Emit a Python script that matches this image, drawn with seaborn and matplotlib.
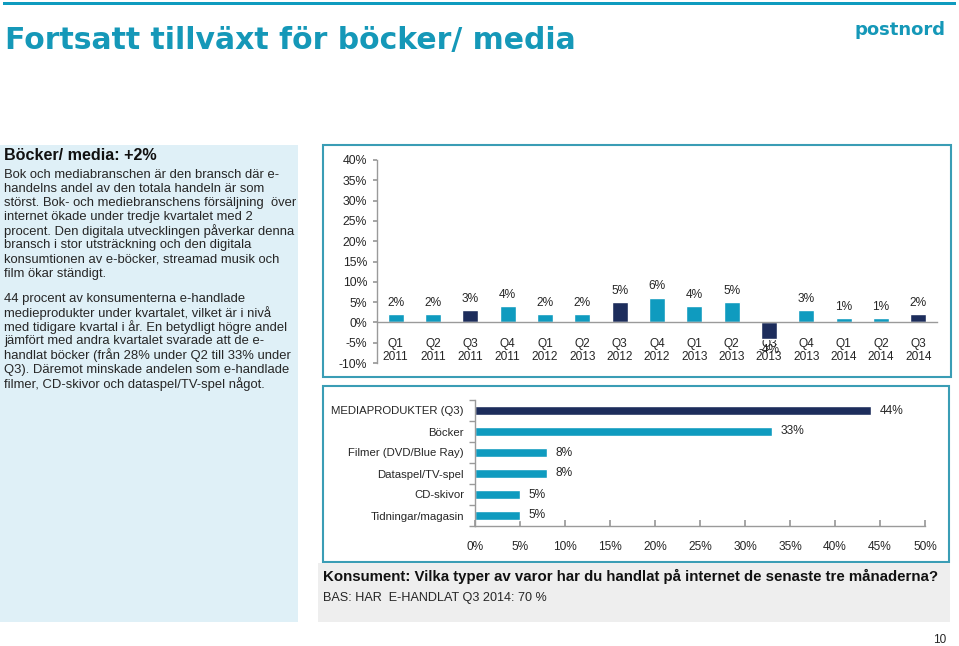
import numpy as np
import pandas as pd
import matplotlib
matplotlib.use("Agg")
import matplotlib.pyplot as plt
from matplotlib.patches import Rectangle
from matplotlib.ticker import FixedLocator, FuncFormatter
import seaborn as sns

# --- data -------------------------------------------------------------
quarters = ["Q1\n2011", "Q2\n2011", "Q3\n2011", "Q4\n2011", "Q1\n2012", "Q2\n2013",
            "Q3\n2012", "Q4\n2012", "Q1\n2013", "Q2\n2013", "Q3\n2013", "Q4\n2013",
            "Q1\n2014", "Q2\n2014", "Q3\n2014"]
growth = [2, 2, 3, 4, 2, 2, 5, 6, 4, 5, -4, 3, 1, 1, 2]

products = ["MEDIAPRODUKTER (Q3)", "Böcker", "Filmer (DVD/Blue Ray)",
            "Dataspel/TV-spel", "CD-skivor", "Tidningar/magasin"]
shares = [44, 33, 8, 8, 5, 5]

left_heading = "Böcker/ media: +2%"
left_par1 = ["Bok och mediabranschen är den bransch där e-",
             "handelns andel av den totala handeln är som",
             "störst. Bok- och mediebranschens försäljning  över",
             "internet ökade under tredje kvartalet med 2",
             "procent. Den digitala utvecklingen påverkar denna",
             "bransch i stor utsträckning och den digitala",
             "konsumtionen av e-böcker, streamad musik och",
             "film ökar ständigt."]
left_par2 = ["44 procent av konsumenterna e-handlade",
             "medieprodukter under kvartalet, vilket är i nivå",
             "med tidigare kvartal i år. En betydligt högre andel",
             "jämfört med andra kvartalet svarade att de e-",
             "handlat böcker (från 28% under Q2 till 33% under",
             "Q3). Däremot minskade andelen som e-handlade",
             "filmer, CD-skivor och dataspel/TV-spel något."]

TEAL = "#0f9bbf"
NAVY = "#1d2d5c"
TITLE_TEAL = "#1598b8"
BORDER = "#3a9db5"
AXIS_GRAY = "#9a9a9a"
TXT = "#262626"

W, H = 959, 646


def fx(x):
    return x / W


def fy(y):
    return 1 - y / H


def box(fig, x0, y0, x1, y1, **kw):
    fig.add_artist(Rectangle((fx(x0), fy(y1)), fx(x1) - fx(x0), fy(y0) - fy(y1),
                             transform=fig.transFigure, **kw))


sns.set_theme(style="white")
plt.rcParams['font.family'] = ['Liberation Sans', 'DejaVu Sans']

fig = plt.figure(figsize=(W / 100, H / 100), dpi=100)
fig.patch.set_facecolor("white")

# page decorations
box(fig, 3, 1.5, 956, 5, facecolor=TEAL, edgecolor="none")
fig.text(fx(5), fy(40), "Fortsatt tillväxt för böcker/ media", color=TITLE_TEAL,
         fontsize=21.5, fontweight="bold", va="center", ha="left",
         family=["DejaVu Sans"])
fig.text(fx(945), fy(30), "postnord", color=TITLE_TEAL, fontsize=13,
         fontweight="heavy", va="center", ha="right", family=["DejaVu Sans"])

# left text panel
box(fig, 0, 145, 298, 622, facecolor="#dff0f7", edgecolor="none")
fig.text(fx(4), fy(156), left_heading, fontsize=11.6, fontweight="bold",
         color="#111111", va="center")
for i, line in enumerate(left_par1):
    fig.text(fx(4), fy(175 + 14.1 * i), line, fontsize=9.4, color=TXT, va="center")
for i, line in enumerate(left_par2):
    fig.text(fx(4), fy(299 + 14.1 * i), line, fontsize=9.4, color=TXT, va="center")

# chart frames and footer
box(fig, 323, 145, 951, 377, facecolor="none", edgecolor=BORDER, lw=1.5)
box(fig, 323, 386, 949, 562, facecolor="none", edgecolor=BORDER, lw=1.5)
box(fig, 318, 563, 950, 622, facecolor="#eeeeee", edgecolor="none")
fig.text(fx(323), fy(576), "Konsument: Vilka typer av varor har du handlat på internet de senaste tre månaderna?",
         fontsize=10.8, fontweight="bold", color="#111111", va="center")
fig.text(fx(323), fy(598), "BAS: HAR  E-HANDLAT Q3 2014: 70 %", fontsize=9.1,
         color=TXT, va="center")
fig.text(fx(946), fy(640), "10", fontsize=8.5, color=TXT, va="center", ha="right")

# --- top chart: quarterly growth -------------------------------------
df_q = pd.DataFrame({"pos": [str(i) for i in range(len(quarters))],
                     "label": quarters, "growth": growth})
q_colors = {p: (NAVY if lab.startswith("Q3") else TEAL)
            for p, lab in zip(df_q["pos"], df_q["label"])}

ax1 = fig.add_axes([fx(377), fy(363), fx(937) - fx(377), fy(160) - fy(363)])
sns.barplot(data=df_q, x="pos", y="growth", hue="pos", palette=q_colors,
            legend=False, width=0.43, saturation=1, ax=ax1)
ax1.set_ylim(-10, 40)
ax1.set_xlim(-0.5, len(quarters) - 0.5)
ax1.set_yticks(np.arange(-10, 41, 5))
ax1.yaxis.set_major_formatter(FuncFormatter(lambda v, _: f"{v:.0f}%"))
ax1.set_xticks(range(len(quarters)))
ax1.set_xticklabels(quarters, linespacing=1.25)
ax1.xaxis.set_minor_locator(FixedLocator(np.arange(0.5, len(quarters) - 0.5, 1)))
ax1.spines["bottom"].set_position(("data", 0))
for s in ["top", "right"]:
    ax1.spines[s].set_visible(False)
for s in ["left", "bottom"]:
    ax1.spines[s].set_color(AXIS_GRAY)
    ax1.spines[s].set_linewidth(1)
ax1.tick_params(axis="x", which="major", length=0, pad=11, labelsize=8.6, labelcolor=TXT)
ax1.tick_params(axis="x", which="minor", length=4, color=AXIS_GRAY, direction="out")
ax1.tick_params(axis="y", length=3, color=AXIS_GRAY, direction="out", left=True,
                labelsize=8.8, labelcolor=TXT, pad=4)
ax1.set_xlabel("")
ax1.set_ylabel("")
ax1.set_facecolor("none")
for i, v in enumerate(growth):
    ax1.annotate(f"{v}%", (i, v), xytext=(0, 4 if v >= 0 else -4),
                 textcoords="offset points", ha="center",
                 va="bottom" if v >= 0 else "top", fontsize=8.6, color=TXT)

# --- bottom chart: product shares ------------------------------------
df_p = pd.DataFrame({"product": products, "share": shares})
p_colors = {p: (NAVY if i == 0 else TEAL) for i, p in enumerate(products)}

ax2 = fig.add_axes([fx(475), fy(526), fx(925) - fx(475), fy(400) - fy(526)])
sns.barplot(data=df_p, x="share", y="product", hue="product", palette=p_colors,
            legend=False, orient="h", width=0.45, saturation=1, ax=ax2)
ax2.set_xlim(0, 50)
ax2.set_xticks(np.arange(0, 51, 5))
ax2.xaxis.set_major_formatter(FuncFormatter(lambda v, _: f"{v:.0f}%"))
ax2.yaxis.set_minor_locator(FixedLocator(np.arange(-0.5, len(products), 1)))
for s in ["top", "right"]:
    ax2.spines[s].set_visible(False)
for s in ["left", "bottom"]:
    ax2.spines[s].set_color(AXIS_GRAY)
    ax2.spines[s].set_linewidth(1)
ax2.tick_params(axis="x", length=4, color=AXIS_GRAY, direction="in", bottom=True,
                labelsize=8.6, labelcolor=TXT, pad=11)
ax2.tick_params(axis="y", which="major", length=0, labelsize=8.2, labelcolor=TXT, pad=8)
ax2.tick_params(axis="y", which="minor", length=4, color=AXIS_GRAY, direction="out", left=True)
ax2.set_xlabel("")
ax2.set_ylabel("")
ax2.set_facecolor("none")
for i, v in enumerate(shares):
    ax2.annotate(f"{v}%", (v, i), xytext=(6, 0), textcoords="offset points",
                 ha="left", va="center", fontsize=8.6, color=TXT)

fig.savefig("out.png", dpi=100)
